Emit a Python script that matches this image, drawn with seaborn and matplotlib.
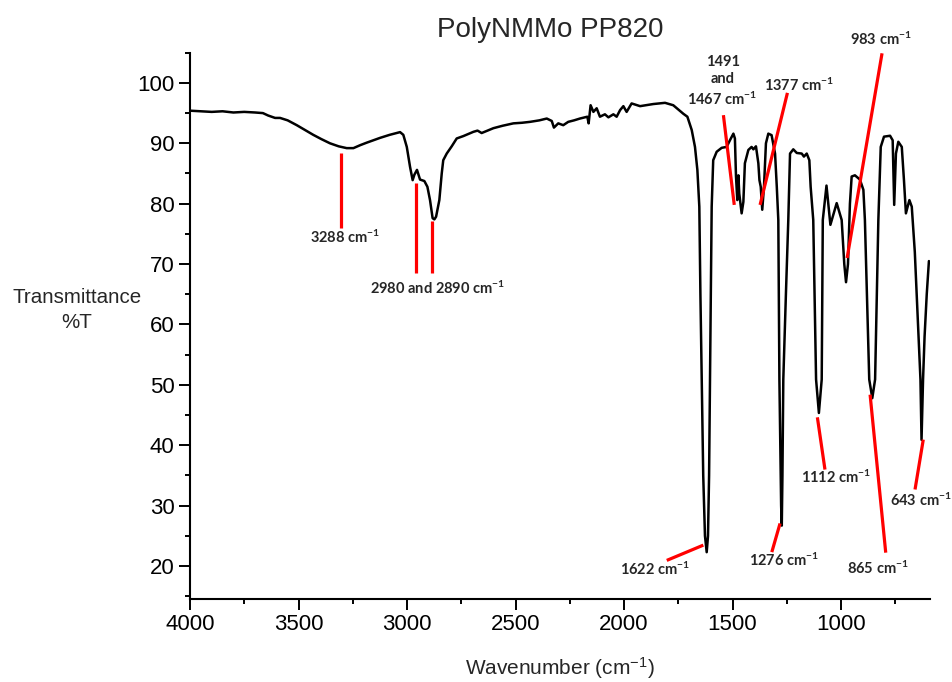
import matplotlib
matplotlib.use("Agg")
import matplotlib.pyplot as plt
import seaborn as sns
import pandas as pd

# ---- data -------------------------------------------------------------
wavenumber = [4000, 3950, 3900, 3850, 3800, 3750, 3700, 3664, 3640, 3608, 3585, 3550,
              3508, 3470, 3432, 3395, 3355, 3315, 3278, 3247, 3215, 3186, 3124, 3080,
              3032, 3017, 3001, 2986, 2974, 2966, 2954, 2940, 2920, 2906, 2894, 2882,
              2874, 2866, 2851, 2840, 2833, 2817, 2794, 2771, 2740, 2694, 2675, 2656,
              2602, 2560, 2510, 2470, 2433, 2390, 2356, 2333, 2323, 2303, 2280, 2257,
              2230, 2203, 2169, 2163, 2154, 2141, 2126, 2111, 2088, 2072, 2049, 2034,
              2018, 2003, 1988, 1965, 1926, 1900, 1865, 1811, 1773, 1747, 1727, 1708,
              1688, 1673, 1662, 1653, 1648, 1642, 1635, 1627, 1619, 1613, 1608, 1604,
              1600, 1596, 1589, 1573, 1550, 1527, 1512, 1496, 1489, 1484, 1478, 1473,
              1469, 1458, 1450, 1443, 1427, 1412, 1404, 1392, 1381, 1376, 1370, 1363,
              1355, 1346, 1335, 1320, 1304, 1296, 1289, 1284, 1276, 1273, 1270, 1266,
              1254, 1243, 1235, 1220, 1204, 1181, 1171, 1158, 1146, 1140, 1128, 1115,
              1102, 1089, 1084, 1067, 1049, 1020, 997, 985, 977, 968, 959, 951,
              936, 913, 897, 890, 870, 856, 843, 828, 817, 802, 774, 762,
              755, 747, 736, 720, 710, 701, 685, 674, 660, 645, 634, 629,
              622, 615, 605, 595]
transmittance = [95.4, 95.3, 95.2, 95.3, 95.1, 95.2, 95.1, 95.0, 94.6, 94.2, 94.2, 93.8,
                 93.0, 92.2, 91.4, 90.7, 90.0, 89.5, 89.2, 89.2, 89.7, 90.1, 90.9, 91.4,
                 91.85, 91.4, 89.4, 86.1, 83.9, 84.8, 85.6, 84.0, 83.75, 82.8, 80.6, 77.6,
                 77.4, 77.85, 80.6, 85.0, 87.2, 88.3, 89.5, 90.8, 91.2, 91.9, 92.1, 91.7,
                 92.5, 92.9, 93.3, 93.4, 93.55, 93.8, 94.1, 93.7, 92.6, 93.3, 93.0, 93.55,
                 93.8, 94.1, 94.4, 93.3, 96.3, 95.2, 95.8, 94.4, 94.8, 94.3, 94.8, 94.4,
                 95.5, 96.15, 95.2, 96.6, 96.15, 96.3, 96.5, 96.7, 96.3, 95.5, 94.9, 94.4,
                 92.2, 89.4, 85.6, 79.5, 65.0, 50.9, 35.0, 25.0, 22.3, 25.0, 35.0, 50.9,
                 65.0, 79.5, 87.2, 88.6, 89.25, 89.4, 90.5, 91.6, 90.8, 84.5, 80.6, 84.7,
                 81.7, 78.4, 80.3, 86.7, 88.9, 89.4, 89.0, 89.5, 86.7, 83.9, 82.8, 79.0,
                 82.8, 90.0, 91.6, 91.35, 88.3, 82.8, 77.3, 50.9, 30.0, 26.7, 35.0, 50.9,
                 65.0, 77.3, 88.3, 89.0, 88.4, 88.3, 87.8, 88.3, 87.2, 82.8, 77.3, 50.9,
                 45.35, 50.9, 77.3, 83.0, 76.5, 80.1, 77.3, 70.0, 67.0, 70.0, 80.0, 84.5,
                 84.7, 84.0, 82.3, 77.3, 50.9, 47.8, 50.9, 77.3, 89.4, 91.1, 91.25, 90.5,
                 79.8, 88.3, 90.25, 89.4, 83.9, 78.4, 80.6, 79.5, 72.0, 60.0, 50.9, 40.9,
                 50.9, 58.0, 65.0, 70.5]

x_ticks = [4000, 3500, 3000, 2500, 2000, 1500, 1000]
y_ticks = [20, 30, 40, 50, 60, 70, 80, 90, 100]

# peak annotations: label, text position (wavenumber, %T)
ann_labels = ["3288 cm$^{-1}$", "2980 and 2890 cm$^{-1}$", "1491\nand\n1467 cm$^{-1}$",
              "1377 cm$^{-1}$", "983 cm$^{-1}$", "1622 cm$^{-1}$", "1276 cm$^{-1}$",
              "1112 cm$^{-1}$", "865 cm$^{-1}$", "643 cm$^{-1}$"]
ann_text_x = [3286, 2857, 1546, 1195, 816, 1857, 1264, 1022, 832, 631]
ann_text_y = [74.5, 66.0, 100.3, 99.6, 107.2, 19.45, 20.94, 34.66, 19.62, 30.86]

# pointer segments: (x0, y0, x1, y1)
ptr_x0 = [3306, 2957, 2886, 1542, 1247, 811, 1803, 1319, 1109, 866, 659]
ptr_y0 = [88.4, 83.4, 77.1, 94.66, 98.35, 104.9, 20.94, 22.31, 44.63, 48.38, 32.68]
ptr_x1 = [3306, 2957, 2886, 1492, 1373, 972, 1634.5, 1281, 1074, 794, 621]
ptr_y1 = [76.0, 68.5, 68.5, 79.8, 79.8, 71.0, 23.47, 27.06, 35.98, 22.22, 40.94]

# ---- plot -------------------------------------------------------------
sns.set_theme(style="ticks")
plt.rcParams["font.family"] = ["Liberation Sans", "DejaVu Sans"]
plt.rcParams["mathtext.default"] = "regular"

df = pd.DataFrame({"Wavenumber": wavenumber, "T": transmittance})

fig = plt.figure(figsize=(9.52, 6.82), dpi=100)
ax = fig.add_axes([190 / 952, 1 - 599 / 682, 740 / 952, 546.3 / 682])

sns.lineplot(data=df, x="Wavenumber", y="T", sort=False, estimator=None,
             color="black", linewidth=1.8, ax=ax)

for x0, y0, x1, y1 in zip(ptr_x0, ptr_y0, ptr_x1, ptr_y1):
    ax.plot([x0, x1], [y0, y1], color="#ff0000", linewidth=2.3,
            solid_capstyle="butt", clip_on=False)

for lab, tx, ty in zip(ann_labels, ann_text_x, ann_text_y):
    ax.text(tx, ty, lab, ha="center", va="center", fontsize=10.5,
            fontweight="bold", family=["Lato", "DejaVu Sans"],
            linespacing=1.3, clip_on=False)

ax.set_xlim(4000, 590)
ax.set_ylim(14.55, 105)
ax.set_xticks(x_ticks)
ax.set_yticks(y_ticks)
ax.set_xticks([3750, 3250, 2750, 2250, 1750, 1250, 750], minor=True)
ax.set_yticks([15, 25, 35, 45, 55, 65, 75, 85, 95, 105], minor=True)
ax.tick_params(axis="both", which="major", length=8, width=1.4, labelsize=16,
               color="black", labelcolor="black", direction="out", pad=3)
ax.tick_params(axis="both", which="minor", length=3.5, width=1.4,
               color="black", direction="out")
for side in ["top", "right"]:
    ax.spines[side].set_visible(False)
for side in ["left", "bottom"]:
    ax.spines[side].set_linewidth(1.5)
    ax.spines[side].set_color("black")

ax.set_xlabel("Wavenumber (cm$^{-1}$)", fontsize=15, labelpad=14)
ax.set_ylabel("")

fig.text(77 / 952, 1 - 310 / 682, "Transmittance\n%T", ha="center", va="center",
         fontsize=14.8, linespacing=1.35)
fig.text(550.5 / 952, 1 - 30 / 682, "PolyNMMo PP820", ha="center", va="center",
         fontsize=20)

fig.savefig("out.png", dpi=100, facecolor="white")
